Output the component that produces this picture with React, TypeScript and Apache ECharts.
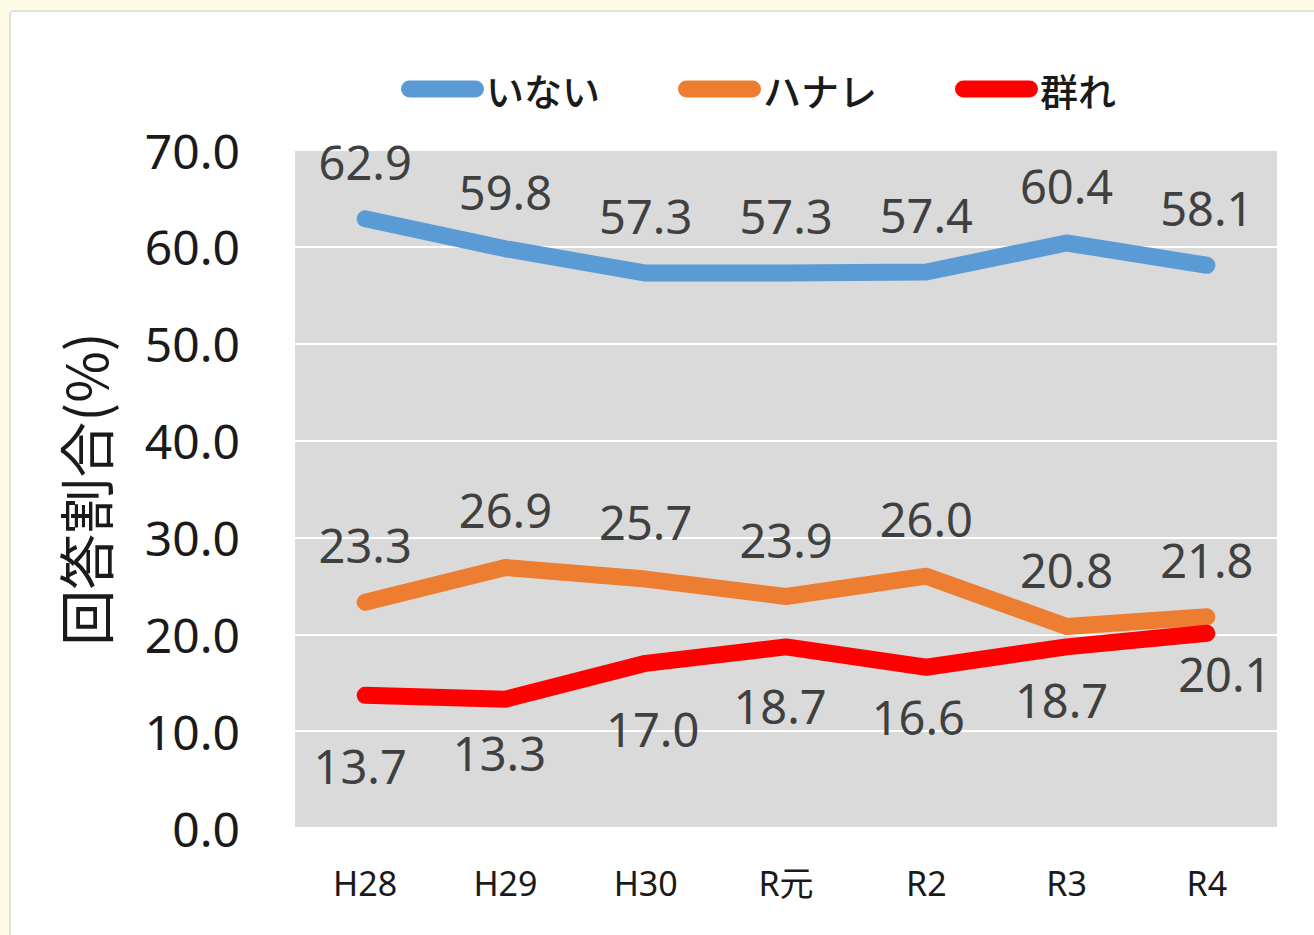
import React, { useEffect, useRef } from "react";
import * as echarts from "echarts";

const categories = ["H28", "H29", "H30", "R元", "R2", "R3", "R4"];
const seriesNames = ["いない", "ハナレ", "群れ"];
const inaiValues = [62.9, 59.8, 57.3, 57.3, 57.4, 60.4, 58.1];
const hanareValues = [23.3, 26.9, 25.7, 23.9, 26.0, 20.8, 21.8];
const mureValues = [13.7, 13.3, 17.0, 18.7, 16.6, 18.7, 20.1];
const yTicks = [0, 10, 20, 30, 40, 50, 60, 70];
const yAxisTitle = "回答割合(%)";

const colors = ["#5b9bd5", "#ed7d31", "#ff0000"];
const LEGEND_ICON =
  "path://M8.5,0H74.5A8.5,8.5,0,0,1,74.5,17H8.5A8.5,8.5,0,0,1,8.5,0Z";

export default function App() {
  const ref = useRef<HTMLDivElement>(null);

  useEffect(() => {
    document.body.style.margin = "0";
    document.body.style.background = "#fdfbe6";
    if (!ref.current) return;
    const chart = echarts.init(ref.current, null, { renderer: "svg" });

    const labelFont = {
      fontFamily: "Noto Sans, Noto Sans CJK JP, sans-serif",
      fontSize: 47,
      color: "#404040",
    };

    // manual label nudges for the 群れ labels (as placed in the original)
    const mureLabelDy = [17, 0, 12, 5, -4, -1, -13];
    const mureLabelDx = [-5, -6, 7, -6, -8, -5, 18];

    const lineSeries = (
      idx: number,
      data: number[],
      position: string,
      distance: number,
      z: number,
      layout?: any
    ) => ({
      name: seriesNames[idx],
      type: "line",
      data,
      symbol: "circle",
      symbolSize: 1,
      showSymbol: true,
      lineStyle: { color: colors[idx], width: 17, cap: "round", join: "round" },
      itemStyle: { color: colors[idx] },
      label: {
        show: true,
        position,
        distance,
        formatter: (p: any) => Number(p.value).toFixed(1),
        ...labelFont,
      },
      labelLayout: layout || { hideOverlap: false },
      z,
    });

    const option: any = {
      animation: false,
      backgroundColor: "transparent",
      graphic: [
        {
          type: "rect",
          shape: { x: 10, y: 11, width: 1320, height: 940, r: 4 },
          style: { fill: "#ffffff", stroke: "#e2e2d6", lineWidth: 2 },
          z: -10,
        },
      ],
      legend: {
        top: 65,
        left: 396,
        itemWidth: 83,
        itemHeight: 17,
        itemGap: 78,
        icon: LEGEND_ICON,
        textStyle: {
          fontFamily: "Noto Sans CJK JP, sans-serif",
          fontSize: 38,
          fontWeight: 500,
          color: "#1a1a1a",
          padding: [0, 0, 0, -3],
        },
        data: seriesNames,
      },
      grid: {
        left: 295,
        right: 37,
        top: 150,
        bottom: 107,
        show: true,
        backgroundColor: "#dadada",
        borderWidth: 0,
      },
      xAxis: {
        type: "category",
        data: categories,
        boundaryGap: true,
        axisLine: { show: false },
        axisTick: { show: false },
        axisLabel: {
          margin: 38,
          fontFamily: "Noto Sans, Noto Sans CJK JP, sans-serif",
          fontSize: 34,
          color: "#1a1a1a",
        },
      },
      yAxis: {
        type: "value",
        min: yTicks[0],
        max: yTicks[yTicks.length - 1],
        interval: 10,
        name: yAxisTitle,
        nameLocation: "middle",
        nameRotate: 90,
        nameGap: 184,
        nameTextStyle: {
          fontFamily: "Noto Sans CJK JP, sans-serif",
          fontSize: 56,
          color: "#1a1a1a",
        },
        axisLine: { show: false },
        axisTick: { show: false },
        splitLine: { show: true, lineStyle: { color: "#ffffff", width: 2 } },
        axisLabel: {
          margin: 55,
          fontFamily: "Noto Sans, sans-serif",
          fontSize: 48,
          color: "#1a1a1a",
          formatter: (v: number) => v.toFixed(1),
        },
      },
      series: [
        lineSeries(0, inaiValues, "top", 33, 3),
        lineSeries(1, hanareValues, "top", 33, 3),
        lineSeries(2, mureValues, "bottom", 30, 4, (p: any) => ({
          dx: mureLabelDx[p.dataIndex] || 0,
          dy: mureLabelDy[p.dataIndex] || 0,
          hideOverlap: false,
        })),
      ],
    };

    chart.setOption(option);
    return () => chart.dispose();
  }, []);

  return <div ref={ref} style={{ width: 1314, height: 935 }} />;
}
